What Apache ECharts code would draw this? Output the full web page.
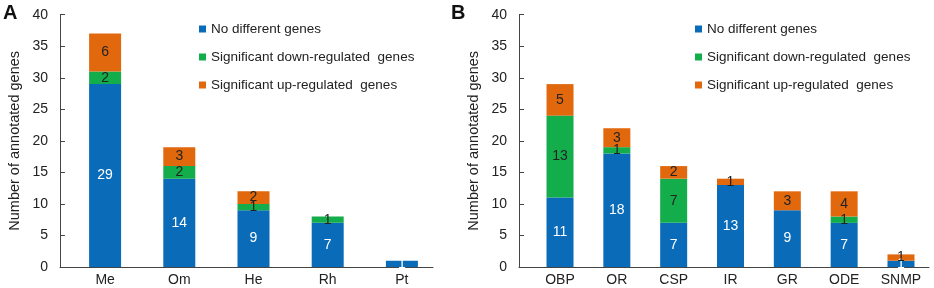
<!DOCTYPE html>
<html>
<head>
<meta charset="utf-8">
<script src="https://cdn.jsdelivr.net/npm/echarts@6/dist/echarts.min.js"></script>
<style>
  html, body { margin: 0; padding: 0; background: #fff; }
  #chart { width: 934px; height: 288px; }
</style>
</head>
<body>
<div id="chart"></div>
<script>
// panel A
const catsA = ['Me', 'Om', 'He', 'Rh', 'Pt']
const noDiffA = [29, 14, 9, 7, 1]
const downA = [2, 2, 1, 1, 0]
const upA = [6, 3, 2, 0, 0]

// panel B
const catsB = ['OBP', 'OR', 'CSP', 'IR', 'GR', 'ODE', 'SNMP']
const noDiffB = [11, 18, 7, 13, 9, 7, 1]
const downB = [13, 1, 7, 0, 0, 1, 0]
const upB = [5, 3, 2, 1, 3, 4, 1]

const yTicks = [0, 5, 10, 15, 20, 25, 30, 35, 40]
const names = ['No different genes', 'Significant down-regulated  genes', 'Significant up-regulated  genes']
const colors = ['#0a6bb8', '#14ad4c', '#e2680e']

const FONT = 'Liberation Sans, Arial, sans-serif'
const axisColor = '#444'

const chart = echarts.init(document.getElementById('chart'))

function yAxisFor(grid, offset) {
  return {
    type: 'value', gridIndex: grid, min: yTicks[0], max: yTicks[yTicks.length - 1], interval: 5,
    offset: offset,
    name: 'Number of annotated genes', nameLocation: 'middle', nameGap: 38,
    nameTextStyle: {fontFamily: FONT, fontSize: 14.5, color: '#222'},
    axisLine: {show: true, lineStyle: {color: axisColor}},
    axisTick: {show: true, inside: true, length: 5, lineStyle: {color: axisColor}},
    axisLabel: {fontFamily: FONT, fontSize: 14, color: '#222', margin: 12},
    splitLine: {show: false}
  }
}

function catAxis(grid, cats) {
  return {
    type: 'category', gridIndex: grid, data: cats,
    axisLine: {show: false}, axisTick: {show: false},
    axisLabel: {fontFamily: FONT, fontSize: 14, color: '#222', margin: 6}
  }
}

// plain baseline for each panel
function baseX(grid) {
  return {
    type: 'value', gridIndex: grid, min: 0, max: 1,
    axisLine: {show: true, onZero: false, lineStyle: {color: axisColor}},
    axisTick: {show: false}, axisLabel: {show: false}, splitLine: {show: false}
  }
}
function baseY(grid) {
  return {type: 'value', gridIndex: grid, show: false, min: 0, max: 1}
}

function barSeries(axisIdx, stack, data, i, width) {
  return {
    type: 'bar', name: names[i], stack: stack, data: data,
    xAxisIndex: axisIdx, yAxisIndex: axisIdx, barWidth: width,
    itemStyle: {color: colors[i]},
    label: {
      show: true, position: 'inside', fontFamily: FONT, fontSize: 14,
      color: i === 0 ? '#fff' : '#222',
      formatter: p => p.value ? String(p.value) : ''
    }
  }
}

function legendFor(left) {
  return {
    orient: 'vertical', left: left, top: 17, icon: 'rect',
    itemWidth: 7, itemHeight: 7, itemGap: 14,
    textStyle: {fontFamily: FONT, fontSize: 13.5, color: '#222', lineHeight: 14},
    data: names, selectedMode: false
  }
}

chart.setOption({
  animation: false,
  textStyle: {fontFamily: FONT},
  grid: [
    {left: 68, right: 495, top: 14.7, bottom: 21},
    {left: 531.6, right: 4.6, top: 14.7, bottom: 21},
    {left: 60, right: 501, top: 14.7, bottom: 21},
    {left: 519, right: 5, top: 14.7, bottom: 21}
  ],
  xAxis: [catAxis(0, catsA), catAxis(1, catsB), baseX(2), baseX(3)],
  yAxis: [yAxisFor(0, 8), yAxisFor(1, 12.6), baseY(2), baseY(3)],
  legend: [legendFor(194), legendFor(690)],
  graphic: [
    {type: 'text', left: 3, top: 3, style: {text: 'A', font: 'bold 20px ' + FONT, fill: '#111'}},
    {type: 'text', left: 451, top: 3, style: {text: 'B', font: 'bold 20px ' + FONT, fill: '#111'}}
  ],
  series: [
    barSeries(0, 'a', noDiffA, 0, 32),
    barSeries(0, 'a', downA, 1, 32),
    barSeries(0, 'a', upA, 2, 32),
    barSeries(1, 'b', noDiffB, 0, 27),
    barSeries(1, 'b', downB, 1, 27),
    barSeries(1, 'b', upB, 2, 27)
  ]
})
</script>
</body>
</html>
